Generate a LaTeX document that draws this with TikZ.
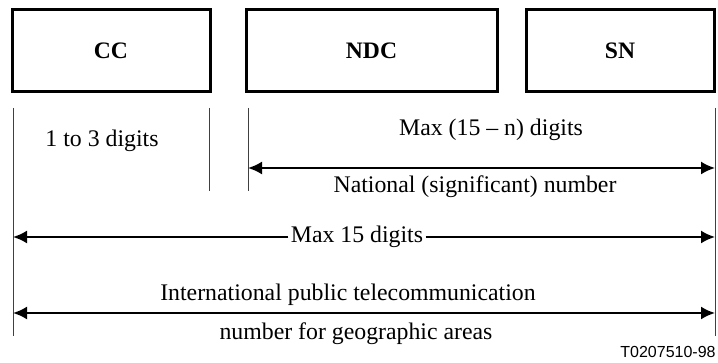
\documentclass[tikz,border=0pt]{standalone}
\usepackage{fontspec}
\setmainfont{Liberation Serif}
\newfontfamily\etiqsans{Liberation Sans}
\usetikzlibrary{arrows.meta}
\tikzstyle{campo}=[draw=black,line width=1.5pt,inner sep=0pt,minimum height=41pt,font=\fontsize{11.8}{14}\selectfont\bfseries]
\tikzstyle{texto}=[inner sep=0pt,font=\fontsize{11.9}{14}\selectfont]
\tikzstyle{limite}=[draw=black!75,line width=0.5pt]
\tikzstyle{flecha}=[line width=1pt,-{Latex[length=7pt,width=6.5pt]}]

\begin{document}
\begin{tikzpicture}[x=0.5pt,y=-0.5pt]
		\useasboundingbox (0,0) rectangle (718,363);
		% campos del numero
		\node[campo,minimum width=99pt] (cc) at (111,51) {CC};
		\node[campo,minimum width=125.5pt] (ndc) at (371.5,51) {NDC};
		\node[campo,minimum width=94pt] (sn) at (620,51) {SN};
		% lineas de limite
		\coordinate (a1) at (13,108);
		\coordinate (a2) at (13,336);
		\coordinate (b1) at (209,108);
		\coordinate (b2) at (209,191);
		\coordinate (c1) at (248,108);
		\coordinate (c2) at (248,191);
		\coordinate (d1) at (715,108);
		\coordinate (d2) at (715,336);
		\draw[limite] (a1)--(a2);
		\draw[limite] (b1)--(b2);
		\draw[limite] (c1)--(c2);
		\draw[limite] (d1)--(d2);
		\node[texto] (cctxt) at (102,141) {1 to 3 digits};
		% numero nacional
		\coordinate (nac1) at (248,168);
		\coordinate (nac2) at (715,168);
		\draw[flecha,{Latex[length=7pt,width=6.5pt]}-{Latex[length=7pt,width=6.5pt]}] (nac1)--(nac2);
		\node[texto] (maxn) at (491,130) {Max (15 -- n) digits};
		\node[texto] (nac) at (475,187) {National (significant) number};
		% max 15
		\node[texto,inner xsep=1pt] (max15) at (357,237) {Max 15 digits};
		\coordinate (m1) at (13,237);
		\coordinate (m2) at (715,237);
		\draw[flecha] (max15.west)--(m1);
		\draw[flecha] (max15.east)--(m2);
		% numero internacional
		\coordinate (i1) at (13,313);
		\coordinate (i2) at (715,313);
		\draw[flecha,{Latex[length=7pt,width=6.5pt]}-{Latex[length=7pt,width=6.5pt]}] (i1)--(i2);
		\node[texto] (int1) at (348,295) {International public telecommunication};
		\node[texto] (int2) at (356,334) {number for geographic areas};
		\node[inner sep=0pt,font=\fontsize{8}{9}\selectfont\etiqsans,anchor=east] (ref) at (716,352) {T0207510-98};
	\end{tikzpicture}
\end{document}
